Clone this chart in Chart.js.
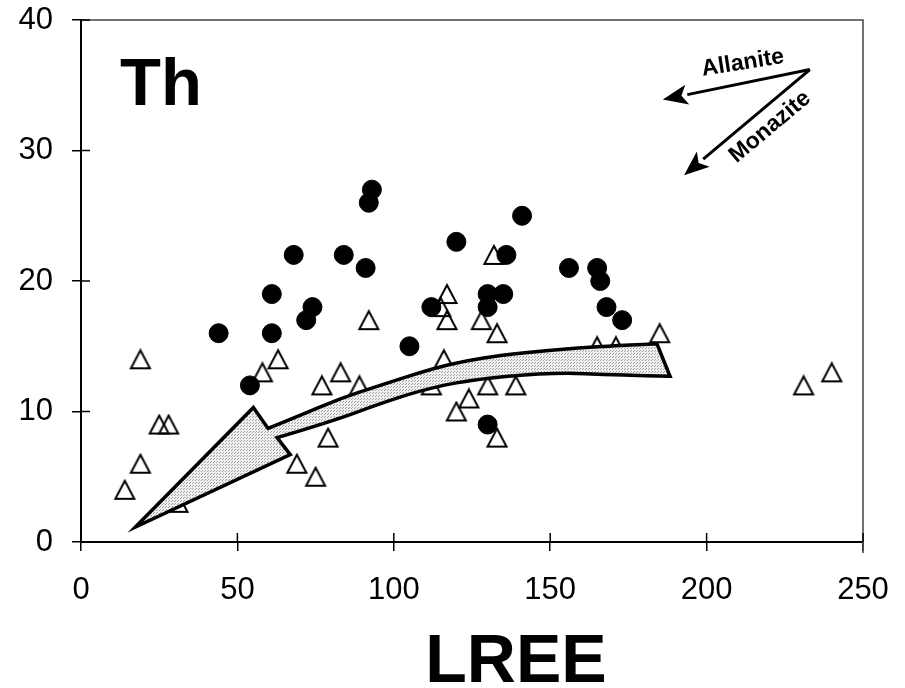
<!DOCTYPE html>
<html><head><meta charset="utf-8">
<script src="https://cdn.jsdelivr.net/npm/chart.js@4.4.1/dist/chart.umd.min.js"></script>
<style>html,body{margin:0;padding:0;background:#fff}#wrap{width:905px;height:688px}</style>
</head><body><div id="wrap"><canvas id="c" width="905" height="688"></canvas></div>
<script>
// ---- tick labels ----
const xTickValues = [0, 50, 100, 150, 200, 250];
const yTickValues = [0, 10, 20, 30, 40];
const xAxisTitle = 'LREE';
const panelLabel = 'Th';

// ---- series: filled circles ----
const circleLREE = [44, 54, 61, 61, 68, 72, 74, 84, 91, 92, 93, 105, 112, 120, 130, 130, 130, 135, 136, 141, 156, 165, 166, 168, 173];
const circleTh   = [16, 12, 19, 16, 22, 17, 18, 22, 21, 26, 27, 15, 18, 23, 19, 18, 9, 19, 22, 25, 21, 21, 20, 18, 17];

// ---- series: open triangles ----
const triangleLREE = [19, 14, 19, 25, 28, 31, 58, 63, 69, 75, 77, 79, 83, 89, 92, 112, 115, 116, 117, 117, 120, 124, 128, 130, 132, 133, 133, 139, 165, 171, 185, 231, 240];
const triangleTh   = [14, 4, 6, 9, 9, 3, 13, 14, 6, 5, 12, 8, 13, 12, 17, 12, 18, 14, 19, 17, 10, 11, 17, 12, 22, 16, 8, 12, 15, 15, 16, 12, 13];

// ---- annotation: broad trend arrow outline (data units) ----
const trendArrowX = [17.4, 55.1, 59.8, 70.1, 82.9, 95.6, 112.5, 123.4, 134.0, 150.0, 165.9, 184.1, 188.3, 172.3, 150.0, 123.4, 108.4, 95.6, 79.6, 62.7, 66.9];
const trendArrowY = [1.15, 10.3, 8.7, 9.7, 11.0, 12.0, 13.3, 13.9, 14.3, 14.7, 15.0, 15.2, 12.7, 12.8, 13.0, 12.4, 11.6, 10.6, 9.2, 8.0, 6.7];
const trendArrowCorners = [0, 1, 2, 11, 12, 19, 20];

// ---- annotation: mineral vectors (data units) ----
const vectorOrigin = [233.0, 36.2];
const vectorNames = ['Allanite', 'Monazite'];
const vectorTipX = [186.0, 192.8];
const vectorTipY = [33.9, 28.1];
const vectorLabelX = [211.6, 220.3];
const vectorLabelY = [36.7, 31.8];
const vectorLabelAngle = [-9, -40];

const FONT = "'Liberation Sans', Arial, Helvetica, sans-serif";

// open triangle marker image
const tri = document.createElement('canvas');
tri.width = 24; tri.height = 22;
(function(){
  const t = tri.getContext('2d');
  t.lineWidth = 2; t.strokeStyle = '#000'; t.lineJoin = 'miter';
  t.beginPath(); t.moveTo(12, 2); t.lineTo(21.5, 20); t.lineTo(2.5, 20); t.closePath(); t.stroke();
})();

// fill pattern for the trend arrow
const pat = document.createElement('canvas');
pat.width = 3; pat.height = 3;
(function(){
  const p = pat.getContext('2d');
  p.fillStyle = '#efefef'; p.fillRect(0, 0, 3, 3);
  p.fillStyle = '#a0a0a0'; p.fillRect(0, 0, 1, 1); p.fillRect(1, 2, 1, 1);
})();

const circlePts = circleLREE.map((x, i) => ({x, y: circleTh[i]}));
const trianglePts = triangleLREE.map((x, i) => ({x, y: triangleTh[i]}));

const decorPlugin = {
  id: 'decor',
  afterDatasetsDraw(chart) {
    const ctx = chart.ctx, xs = chart.scales.x, ys = chart.scales.y;
    const px = v => xs.getPixelForValue(v), py = v => ys.getPixelForValue(v);
    ctx.save();
    // trend arrow (smoothed between corner points)
    const P = trendArrowX.map((x, i) => [px(x), py(trendArrowY[i])]);
    const n = P.length;
    ctx.beginPath();
    ctx.moveTo(P[0][0], P[0][1]);
    for (let i = 1; i <= n; i++) {
      const idx = i % n;
      const cur = P[idx];
      if (trendArrowCorners.includes(idx)) {
        ctx.lineTo(cur[0], cur[1]);
      } else {
        const nx = P[(idx + 1) % n];
        const isLastSmooth = trendArrowCorners.includes((idx + 1) % n);
        const end = isLastSmooth ? nx : [(cur[0] + nx[0]) / 2, (cur[1] + nx[1]) / 2];
        ctx.quadraticCurveTo(cur[0], cur[1], end[0], end[1]);
        if (isLastSmooth) i++;
      }
    }
    ctx.closePath();
    ctx.fillStyle = ctx.createPattern(pat, 'repeat');
    ctx.fill();
    ctx.lineWidth = 3.5; ctx.strokeStyle = '#000'; ctx.lineJoin = 'miter'; ctx.miterLimit = 10;
    ctx.stroke();

    // mineral vectors
    const ox = px(vectorOrigin[0]), oy = py(vectorOrigin[1]);
    vectorNames.forEach((name, i) => {
      const tx = px(vectorTipX[i]), ty = py(vectorTipY[i]);
      const ang = Math.atan2(ty - oy, tx - ox);
      const hl = 25, hw = 10;
      const bx = tx - Math.cos(ang) * hl, by = ty - Math.sin(ang) * hl;
      ctx.beginPath(); ctx.moveTo(ox, oy); ctx.lineTo(bx, by);
      ctx.lineWidth = 3; ctx.strokeStyle = '#000'; ctx.stroke();
      ctx.beginPath();
      ctx.moveTo(tx, ty);
      ctx.lineTo(bx + Math.sin(ang) * hw, by - Math.cos(ang) * hw);
      ctx.lineTo(tx - Math.cos(ang) * (hl - 6), ty - Math.sin(ang) * (hl - 6));
      ctx.lineTo(bx - Math.sin(ang) * hw, by + Math.cos(ang) * hw);
      ctx.closePath(); ctx.fillStyle = '#000'; ctx.fill();
      ctx.save();
      ctx.translate(px(vectorLabelX[i]), py(vectorLabelY[i]));
      ctx.rotate(vectorLabelAngle[i] * Math.PI / 180);
      ctx.font = 'bold 23px ' + FONT; ctx.fillStyle = '#000';
      ctx.textAlign = 'center'; ctx.textBaseline = 'middle';
      ctx.fillText(name, 0, 0);
      ctx.restore();
    });
    ctx.restore();
  },
  afterDraw(chart) {
    const ctx = chart.ctx, xs = chart.scales.x, ys = chart.scales.y, a = chart.chartArea;
    ctx.save();
    // top and right frame
    ctx.strokeStyle = '#444'; ctx.lineWidth = 1.5;
    ctx.beginPath(); ctx.moveTo(a.left, a.top); ctx.lineTo(a.right, a.top); ctx.lineTo(a.right, a.bottom + 11); ctx.stroke();
    // inner tick halves
    ctx.strokeStyle = '#000'; ctx.lineWidth = 1.5;
    yTickValues.forEach(v => { const Y = ys.getPixelForValue(v); ctx.beginPath(); ctx.moveTo(a.left, Y); ctx.lineTo(a.left + 9, Y); ctx.stroke(); });
    xTickValues.forEach(v => { const X = xs.getPixelForValue(v); ctx.beginPath(); ctx.moveTo(X, a.bottom); ctx.lineTo(X, a.bottom - 9); ctx.stroke(); });
    // panel label
    ctx.fillStyle = '#000';
    ctx.font = 'bold 67px ' + FONT; ctx.textAlign = 'left'; ctx.textBaseline = 'alphabetic';
    ctx.fillText(panelLabel, a.left + 39, a.top + 85);
    // x axis title
    ctx.font = 'bold 68px ' + FONT; ctx.textAlign = 'center'; ctx.textBaseline = 'alphabetic';
    ctx.fillText(xAxisTitle, 516, 682);
    ctx.restore();
  }
};

new Chart(document.getElementById('c'), {
  type: 'scatter',
  data: {
    datasets: [
      { label: 'circles', data: circlePts, pointStyle: 'circle', pointRadius: 9.5, backgroundColor: '#000', borderColor: '#000', borderWidth: 1 },
      { label: 'triangles', data: trianglePts, pointStyle: tri, pointRadius: 11, backgroundColor: 'rgba(0,0,0,0)', borderColor: '#000' }
    ]
  },
  options: {
    responsive: false, animation: false, devicePixelRatio: 1,
    layout: { padding: { top: 20, right: 42, left: 0, bottom: 0 } },
    plugins: { legend: { display: false }, tooltip: { enabled: false } },
    scales: {
      x: {
        type: 'linear', position: 'bottom', min: 0, max: 250,
        afterBuildTicks: s => { s.ticks = xTickValues.map(v => ({ value: v })); },
        afterFit: s => { s.height = 146; s.paddingLeft = 0; s.paddingRight = 0; s.paddingTop = 0; s.paddingBottom = 0; },
        ticks: { color: '#000', font: { family: FONT, size: 31 }, padding: 21, maxRotation: 0, autoSkip: false },
        grid: { drawOnChartArea: false, color: '#000', lineWidth: 1.5, tickLength: 9 },
        border: { color: '#000', width: 2 }
      },
      y: {
        type: 'linear', min: 0, max: 40,
        afterBuildTicks: s => { s.ticks = yTickValues.map(v => ({ value: v })); },
        afterFit: s => { s.width = 81; s.paddingLeft = 0; s.paddingRight = 0; s.paddingTop = 0; s.paddingBottom = 0; },
        ticks: { color: '#000', font: { family: FONT, size: 31 }, padding: 19 },
        grid: { drawOnChartArea: false, color: '#000', lineWidth: 1.5, tickLength: 9 },
        border: { color: '#000', width: 2 }
      }
    }
  },
  plugins: [decorPlugin]
});
</script>
</body></html>
